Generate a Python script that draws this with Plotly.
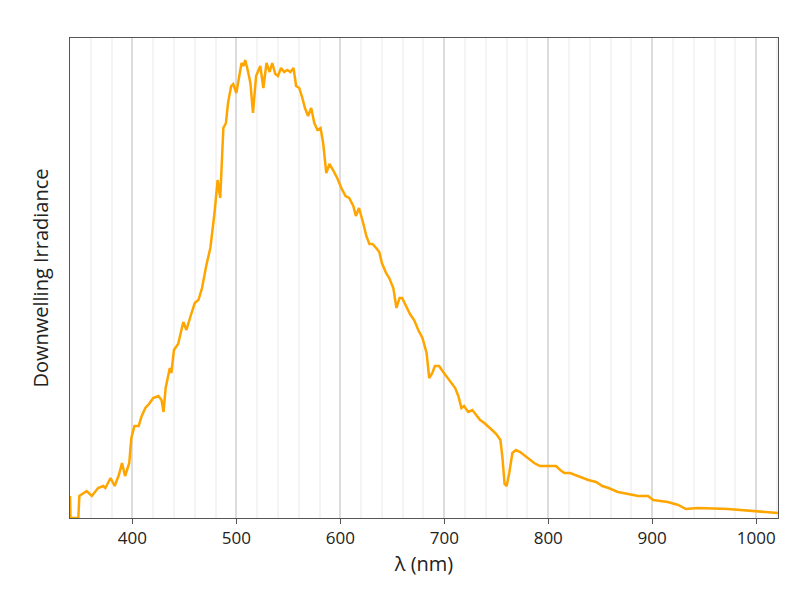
import plotly.graph_objects as go

# wavelength (nm) and downwelling irradiance (arbitrary units)
wavelength = [340, 340.5, 348, 349, 356, 361, 367, 372, 374, 379, 383, 387, 390, 393, 397, 399,
              402, 406, 409, 412.5, 416, 420, 425, 428, 430, 432, 436, 437.5, 440, 444, 449,
              452, 456, 460, 463.5, 467, 471, 475, 479, 482, 484.5, 487.5, 490, 492, 495, 497,
              500, 503, 505, 507, 508.5, 510.5, 513.5, 516, 519, 523, 526, 529, 532, 534.5,
              537.5, 540, 543, 546, 549, 552, 555, 557.5, 560.5, 563.5, 566, 569, 572, 575,
              578, 581, 583.5, 586.5, 589.5, 593, 597, 601, 605, 608.5, 612.5, 615, 618, 622,
              625, 628, 631, 634.5, 637.5, 640, 644, 647, 651, 654, 657, 659.5, 663.5, 667,
              671, 675, 679, 683, 685.5, 688.5, 691, 695, 699, 703, 707, 710.5, 713.5, 716.5,
              719, 723, 727, 731, 734.5, 738.5, 742, 746, 750, 754, 756, 758, 760, 762.5,
              765.5, 769, 773, 777, 781, 786.5, 792, 798, 807.5, 811.5, 815.5, 821, 829,
              838.5, 846, 852, 858, 867, 877, 886.5, 896, 901, 915, 925, 932.5, 944, 973, 1021]
irradiance = [22, 0, 0, 22, 27, 22, 30, 32, 30, 40, 32, 43, 55, 42, 55, 80,
              92, 92, 102, 110, 114, 120, 122, 118, 106, 130, 150, 145, 168, 174, 196,
              188, 202, 215, 218, 230, 252, 270, 305, 338, 320, 390, 395, 415, 432, 434,
              425, 442, 455, 452, 458, 450, 435, 405, 442, 452, 430, 455, 446, 455,
              444, 442, 450, 446, 448, 446, 450, 432, 430, 420, 410, 402, 410, 395,
              388, 390, 375, 345, 354, 348, 340, 330, 322, 320, 312, 302, 310, 295,
              282, 274, 274, 270, 266, 255, 245, 240, 230, 210, 220, 220, 212, 204,
              198, 188, 180, 165, 140, 145, 152, 152, 146, 140, 135, 130, 122, 110,
              112, 106, 108, 102, 98, 95, 92, 88, 84, 78, 60, 34, 32, 45,
              65, 68, 66, 63, 60, 55, 52, 52, 52, 48, 45, 45, 42,
              38, 36, 32, 30, 26, 24, 22, 22, 18, 16, 13, 9, 10, 9, 5]

fig = go.Figure()
fig.add_trace(go.Scatter(x=wavelength, y=irradiance, mode='lines',
                         line=dict(color='#FFA500', width=2.5)))

fig.update_layout(template='plotly_white', width=800, height=600,
                  plot_bgcolor='white', paper_bgcolor='white',
                  margin=dict(l=62, r=30, t=30, b=90),
                  font=dict(family='Open Sans', size=17, color='#222'),
                  showlegend=False)
fig.update_xaxes(title_text='λ (nm)', range=[340, 1021], tickvals=[400, 500, 600, 700, 800, 900, 1000],
                 showgrid=True, gridcolor='#dcdcdc', gridwidth=1.5,
                 minor=dict(dtick=20, showgrid=True, gridcolor='#f4f4f4'),
                 showline=True, linecolor='#555', mirror=True, ticks='outside', ticklen=5,
                 tickcolor='#555', zeroline=False, title_standoff=8, automargin=False)
fig.update_yaxes(title_text='Downwelling Irradiance', range=[0, 480], showticklabels=False,
                 showgrid=False, showline=True, linecolor='#555', mirror=True, zeroline=False,
                 title_standoff=15, automargin=False)

fig.write_html("out.html")
